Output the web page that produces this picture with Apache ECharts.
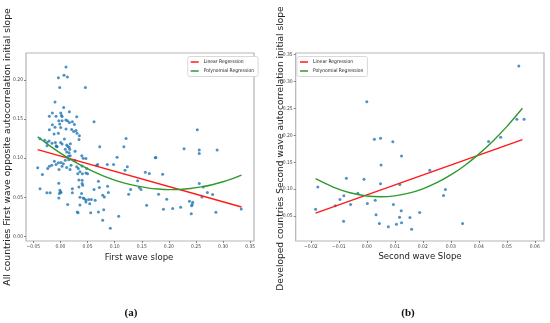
<!DOCTYPE html>
<html><head><meta charset="utf-8">
<script src="https://cdn.jsdelivr.net/npm/echarts@6/dist/echarts.min.js"></script>
<style>html,body{margin:0;padding:0;background:#fff}#c{width:550px;height:323px}</style>
</head><body><div id="c"></div>
<script>
// ---- Panel (a): All countries ----
const aX = [0.0103,-0.0038,0.0066,0.0128,-0.0014,0.046,-0.010,0.006,-0.0149,-0.0204,-0.0081,0.0006,0.002,0.003,0.0165,0.030,-0.003,0.003,0.010,0.013,0.062,-0.0149,-0.0014,0.0165,0.022,0.0257,-0.0204,-0.010,0.0005,0.0103,0.0207,0.0287,-0.0118,-0.0038,0.0245,0.0306,0.035,0.0343,0.121,0.2524,-0.0376,-0.029,-0.021,-0.0247,-0.0155,-0.0093,0.0073,0.0005,0.0116,0.0183,-0.0069,0.003,-0.0247,-0.008,
0.0135,0.016,0.0725,0.117,0.009,0.017,0.027,0.228,0.256,0.256,0.289,0.0394,0.047,0.1045,0.175,-0.0063,0.016,0.018,0.0115,0.0146,0.009,0.0153,0.027,0.042,0.040,0.0667,0.0865,0.098,-0.0419,-0.0333,-0.0235,-0.0204,-0.016,-0.0112,-0.0081,-0.0038,0.0011,0.003,0.0054,-0.0026,0.0115,0.0195,0.0177,0.030,0.033,0.036,0.0485,0.032,0.0405,0.050,0.0687,0.1234,0.1191,0.047,0.1639,0.1566,0.176,0.1885,
0.040,0.040,0.041,0.034,0.036,0.042,0.047,0.039,0.036,-0.0376,-0.025,-0.019,-0.003,-0.001,0.000,0.001,-0.003,0.022,0.022,0.0134,0.031,0.070,0.1424,0.062,0.0718,0.087,0.0884,0.1295,0.1258,0.1455,0.1486,0.078,0.081,0.052,0.057,0.054,0.064,0.159,0.181,0.190,0.0558,0.070,0.0798,0.1074,0.0779,0.092,0.256,0.2635,0.271,0.2807,0.261,0.196,0.207,0.2217,0.238,0.244,0.243,0.242,0.2413,0.2868,0.3335,0.034,0.0325,0.044,0.047,-0.002];
const aY = [0.2167,0.203,0.206,0.2038,0.1906,0.1906,0.1718,0.165,0.1577,0.1538,0.1538,0.1577,0.1547,0.1534,0.1594,0.153,0.148,0.148,0.149,0.148,0.1466,0.1427,0.1436,0.1457,0.1466,0.1432,0.1363,0.1397,0.1393,0.1372,0.1368,0.1355,0.1308,0.132,0.1342,0.132,0.1286,0.124,0.1252,0.1363,0.1247,0.123,0.122,0.120,0.1192,0.120,0.1244,0.120,0.117,0.1184,0.115,0.118,0.1158,0.1158,
0.1154,0.114,0.1145,0.1145,0.1115,0.1115,0.109,0.112,0.1106,0.106,0.1106,0.103,0.0996,0.1013,0.1004,0.1145,0.107,0.103,0.108,0.1026,0.0974,0.098,0.097,0.100,0.090,0.091,0.092,0.092,0.0876,0.079,0.0868,0.0897,0.091,0.0962,0.0919,0.094,0.0944,0.0897,0.093,0.0855,0.088,0.091,0.0855,0.089,0.0868,0.0825,0.0868,0.080,0.080,0.080,0.092,0.0889,0.0846,0.081,0.0803,0.082,0.101,0.0795,
0.0718,0.0675,0.0654,0.063,0.050,0.049,0.0466,0.0547,0.040,0.061,0.0556,0.0556,0.068,0.059,0.0568,0.056,0.049,0.061,0.0556,0.0406,0.031,0.0705,0.071,0.060,0.0624,0.064,0.056,0.0598,0.0538,0.0624,0.0598,0.0526,0.0504,0.047,0.047,0.0418,0.046,0.0397,0.0538,0.0346,0.0303,0.031,0.034,0.0256,0.0205,0.0103,0.0675,0.0632,0.056,0.0534,0.0504,0.0474,0.0355,0.0372,0.045,0.0436,0.0406,0.039,0.029,0.0308,0.035,0.072,0.030,0.048,0.044,0.0547];
const aLinX = [-0.042, 0.334];
const aLinY = [0.111, 0.0375];
const aPolyX = [-0.042,-0.02,0.0,0.02,0.04,0.06,0.08,0.10,0.12,0.14,0.16,0.18,0.20,0.22,0.24,0.26,0.28,0.30,0.32,0.334];
const aPolyY = [0.1275,0.116,0.1064,0.0978,0.090,0.0831,0.0771,0.072,0.0678,0.0645,0.062,0.0605,0.0598,0.060,0.0612,0.0632,0.066,0.0698,0.0745,0.0783];
const aXTicks = [-0.05,0,0.05,0.10,0.15,0.20,0.25,0.30,0.35];
const aYTicks = [0,0.05,0.10,0.15,0.20];

// ---- Panel (b): Developed countries ----
const bX = [-0.0183,-0.0175,-0.0113,-0.0096,-0.0082,-0.0083,-0.0073,-0.0058,-0.0032,-0.0010,0.0002,0.0027,0.0030,0.0033,0.0045,0.0049,0.0049,0.0051,0.0077,0.0093,0.0095,0.0106,0.0117,0.0118,0.0123,0.0124,0.0124,0.0154,0.016,0.0189,0.0225,0.0274,0.0281,0.0342,0.0435,0.0478,0.0000,0.0543,0.0536,0.0562];
const bY = [0.063,0.1043,0.0691,0.0809,0.0877,0.0407,0.1204,0.0716,0.0926,0.1185,0.0735,0.1926,0.0796,0.0525,0.0364,0.1944,0.1099,0.145,0.0302,0.1877,0.0716,0.0352,0.0481,0.1086,0.0599,0.0377,0.1617,0.0475,0.0259,0.0568,0.1352,0.0883,0.0994,0.0364,0.1885,0.1965,0.262,0.3285,0.2295,0.2295];
const bLinX = [-0.0183, 0.0556];
const bLinY = [0.0556, 0.192];
const bPolyX = [-0.0183,-0.012,-0.006,0.0,0.005,0.010,0.015,0.020,0.025,0.030,0.035,0.040,0.045,0.050,0.0556];
const bPolyY = [0.1195,0.104,0.0934,0.0875,0.086,0.0877,0.0926,0.1007,0.112,0.1264,0.144,0.165,0.189,0.216,0.250];
const bXTicks = [-0.02,-0.01,0,0.01,0.02,0.03,0.04,0.05,0.06];
const bYTicks = [0.05,0.10,0.15,0.20,0.25,0.30,0.35];

const zip = (xs, ys) => xs.map((x, i) => [x, ys[i]]);
const COND = "'DejaVu Sans Condensed','Liberation Sans Narrow','DejaVu Sans',sans-serif";
const fmt = v => (v < 0 ? '\u2212' : '') + Math.abs(v).toFixed(2);

function axis(gi, min, max, ticks, isY) {
  return {
    type: 'value', gridIndex: gi, min: min, max: max,
    axisLine: { show: false, onZero: false }, splitLine: { show: false },
    axisTick: { show: true, customValues: ticks, length: 2, lineStyle: { color: '#666', width: 0.8 } },
    axisLabel: { customValues: ticks, fontSize: 5, color: '#444', fontFamily: COND, margin: 3, formatter: fmt }
  };
}
const RED = '#ff1a1a', GREEN = '#2e9a2e', BLUE = '#1f77b4';
function lineSeries(name, xs, ys, color, gi) {
  return { type: 'line', name: name, xAxisIndex: gi, yAxisIndex: gi, data: zip(xs, ys),
    showSymbol: false, smooth: 0.3, z: 5, lineStyle: { color: color, width: 1.4 }, itemStyle: { color: color }, silent: true };
}
function legend(left) {
  return { left: left, top: 56.5, orient: 'vertical', icon: 'rect', itemWidth: 8, itemHeight: 1.5, itemGap: 4,
    padding: [3, 4, 3, 3], borderColor: '#cfcfcf', borderWidth: 0.8, borderRadius: 2, backgroundColor: '#fff',
    textStyle: { fontSize: 5, color: '#222', fontFamily: COND }, data: ['Linear Regression', 'Polynomial Regression'] };
}

const chart = echarts.init(document.getElementById('c'), null, { renderer: 'canvas' });
chart.setOption({
  backgroundColor: '#fff',
  animation: false,
  grid: [
    { left: 26, top: 53, width: 228, height: 188, show: true, borderColor: '#b5b5b5', borderWidth: 1.2 },
    { left: 295.7, top: 53, width: 248.3, height: 188, show: true, borderColor: '#b5b5b5', borderWidth: 1.2 }
  ],
  xAxis: [axis(0, -0.0635, 0.357, aXTicks, false), axis(1, -0.0254, 0.0633, bXTicks, false)],
  yAxis: [axis(0, -0.006, 0.2346, aYTicks, true), axis(1, 0.004, 0.3524, bYTicks, true)],
  legend: [legend(187.7), legend(297)],
  series: [
    { type: 'scatter', name: 'pts a', xAxisIndex: 0, yAxisIndex: 0, data: zip(aX, aY), symbolSize: 3, itemStyle: { color: BLUE }, z: 2 },
    lineSeries('Linear Regression', aLinX, aLinY, RED, 0),
    lineSeries('Polynomial Regression', aPolyX, aPolyY, GREEN, 0),
    { type: 'scatter', name: 'pts b', xAxisIndex: 1, yAxisIndex: 1, data: zip(bX, bY), symbolSize: 3, itemStyle: { color: BLUE }, z: 2 },
    lineSeries('Linear Regression', bLinX, bLinY, RED, 1),
    lineSeries('Polynomial Regression', bPolyX, bPolyY, GREEN, 1)
  ],
  graphic: [
    { type: 'text', x: 8, y: 147, rotation: Math.PI / 2, style: { text: 'All countries First wave opposite autocorrelation initial slope', fontSize: 9.2, fontFamily: "'DejaVu Sans',sans-serif", fill: '#222', align: 'center', verticalAlign: 'middle' } },
    { type: 'text', x: 280.5, y: 148.5, rotation: Math.PI / 2, style: { text: 'Developed countries Second wave autocorrelation initial slope', fontSize: 9.1, fontFamily: "'DejaVu Sans',sans-serif", fill: '#222', align: 'center', verticalAlign: 'middle' } },
    { type: 'text', x: 139, y: 258, style: { text: 'First wave slope', fontSize: 9.5, fontFamily: COND, fill: '#222', align: 'center', verticalAlign: 'middle' } },
    { type: 'text', x: 420, y: 257, style: { text: 'Second wave Slope', fontSize: 9.5, fontFamily: COND, fill: '#222', align: 'center', verticalAlign: 'middle' } },
    { type: 'text', x: 131, y: 313, style: { text: '(a)', fontSize: 11, fontWeight: 'bold', fontFamily: "'Liberation Serif','Times New Roman',serif", fill: '#111', align: 'center', verticalAlign: 'middle' } },
    { type: 'text', x: 408, y: 313, style: { text: '(b)', fontSize: 11, fontWeight: 'bold', fontFamily: "'Liberation Serif','Times New Roman',serif", fill: '#111', align: 'center', verticalAlign: 'middle' } }
  ]
});
</script></body></html>
